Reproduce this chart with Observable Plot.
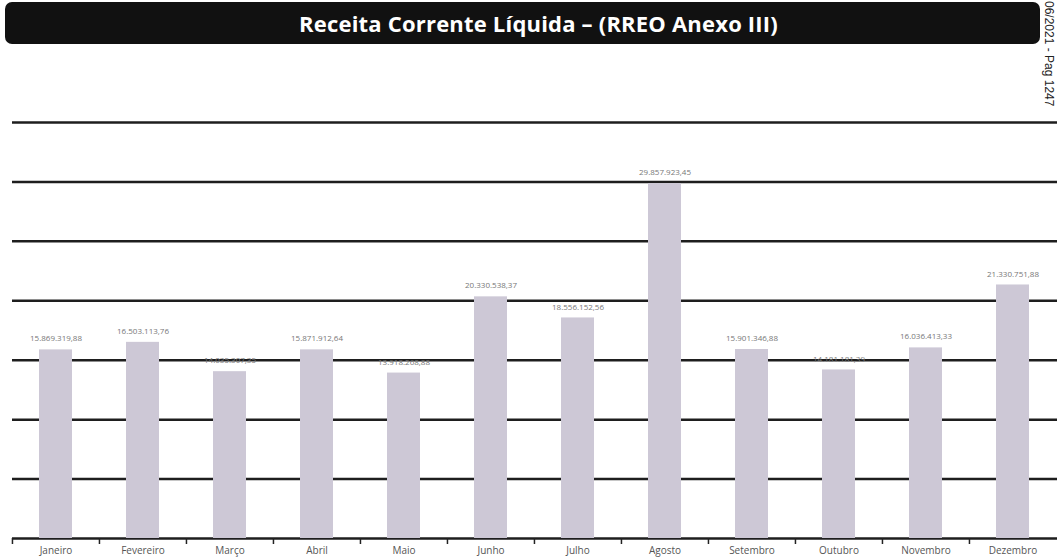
<!DOCTYPE html>
<html>
<head>
<meta charset="utf-8">
<script src="https://cdn.jsdelivr.net/npm/d3@7"></script>
<script src="https://cdn.jsdelivr.net/npm/@observablehq/plot@0.6"></script>
<style>
  html, body { margin: 0; padding: 0; background: #fff; width: 1057px; height: 559px; overflow: hidden; position: relative; }
  #title {
    position: absolute; left: 5px; top: 2px; width: 1035px; height: 42px; box-sizing: border-box; padding-left: 32px;
    background: #111; border-radius: 7px; color: #fff;
    font-family: "Open Sans", sans-serif; font-weight: 700; font-size: 22px;
    display: flex; align-items: center; justify-content: center; letter-spacing: 0.2px;
  }
  #stamp {
    position: absolute; left: 1042px; top: 1px; writing-mode: vertical-rl;
    font-family: "Liberation Sans", Arial, sans-serif; font-size: 12px; color: #222;
  }
  #chart { position: absolute; left: 0; top: 48px; }
</style>
</head>
<body>
<div id="title">Receita Corrente Líquida – (RREO Anexo III)</div>
<div id="stamp">06/2021 - Pag 1247</div>
<div id="chart"></div>
<script>
const months = ["Janeiro","Fevereiro","Março","Abril","Maio","Junho","Julho","Agosto","Setembro","Outubro","Novembro","Dezembro"];
const values = [15869319.88, 16503113.76, 14035307.35, 15871912.64, 13918268.88, 20330538.37, 18556152.56, 29857923.45, 15901346.88, 14181181.39, 16036413.33, 21330751.88];
const gridValues = [0, 5e6, 10e6, 15e6, 20e6, 25e6, 30e6, 35e6];

const data = months.map((m, i) => ({month: m, value: values[i],
  label: values[i].toLocaleString("pt-BR", {minimumFractionDigits: 2, maximumFractionDigits: 2})}));

const W = 1057, mL = 12, mR = 0;
const step = (W - mL - mR) / months.length;

const chart = Plot.plot({
  width: W, height: 511,
  marginLeft: mL, marginRight: mR, marginTop: 74, marginBottom: 21,
  x: {domain: months, paddingInner: 0.62, paddingOuter: 0.31, label: null},
  y: {domain: [0, 35e6], axis: null, label: null},
  style: {fontFamily: "Open Sans, sans-serif", background: "transparent"},
  marks: [
    Plot.ruleY(gridValues, {stroke: "#1e1e1e", strokeWidth: 2.5}),
    Plot.barY(data, {x: "month", y: "value", fill: "#cdc8d6"}),
    Plot.axisX({tickSize: 0, tickPadding: 8, fontSize: 10, fill: "#555"}),
    Plot.axisX({tickSize: 6, tickFormat: () => "", dx: -step / 2, stroke: "#222", strokeWidth: 1.5}),
    Plot.text(data, {x: "month", y: "value", text: "label", dy: -11, fontSize: 8, fill: "#777"})
  ]
});
document.getElementById("chart").appendChild(chart);
</script>
</body>
</html>
